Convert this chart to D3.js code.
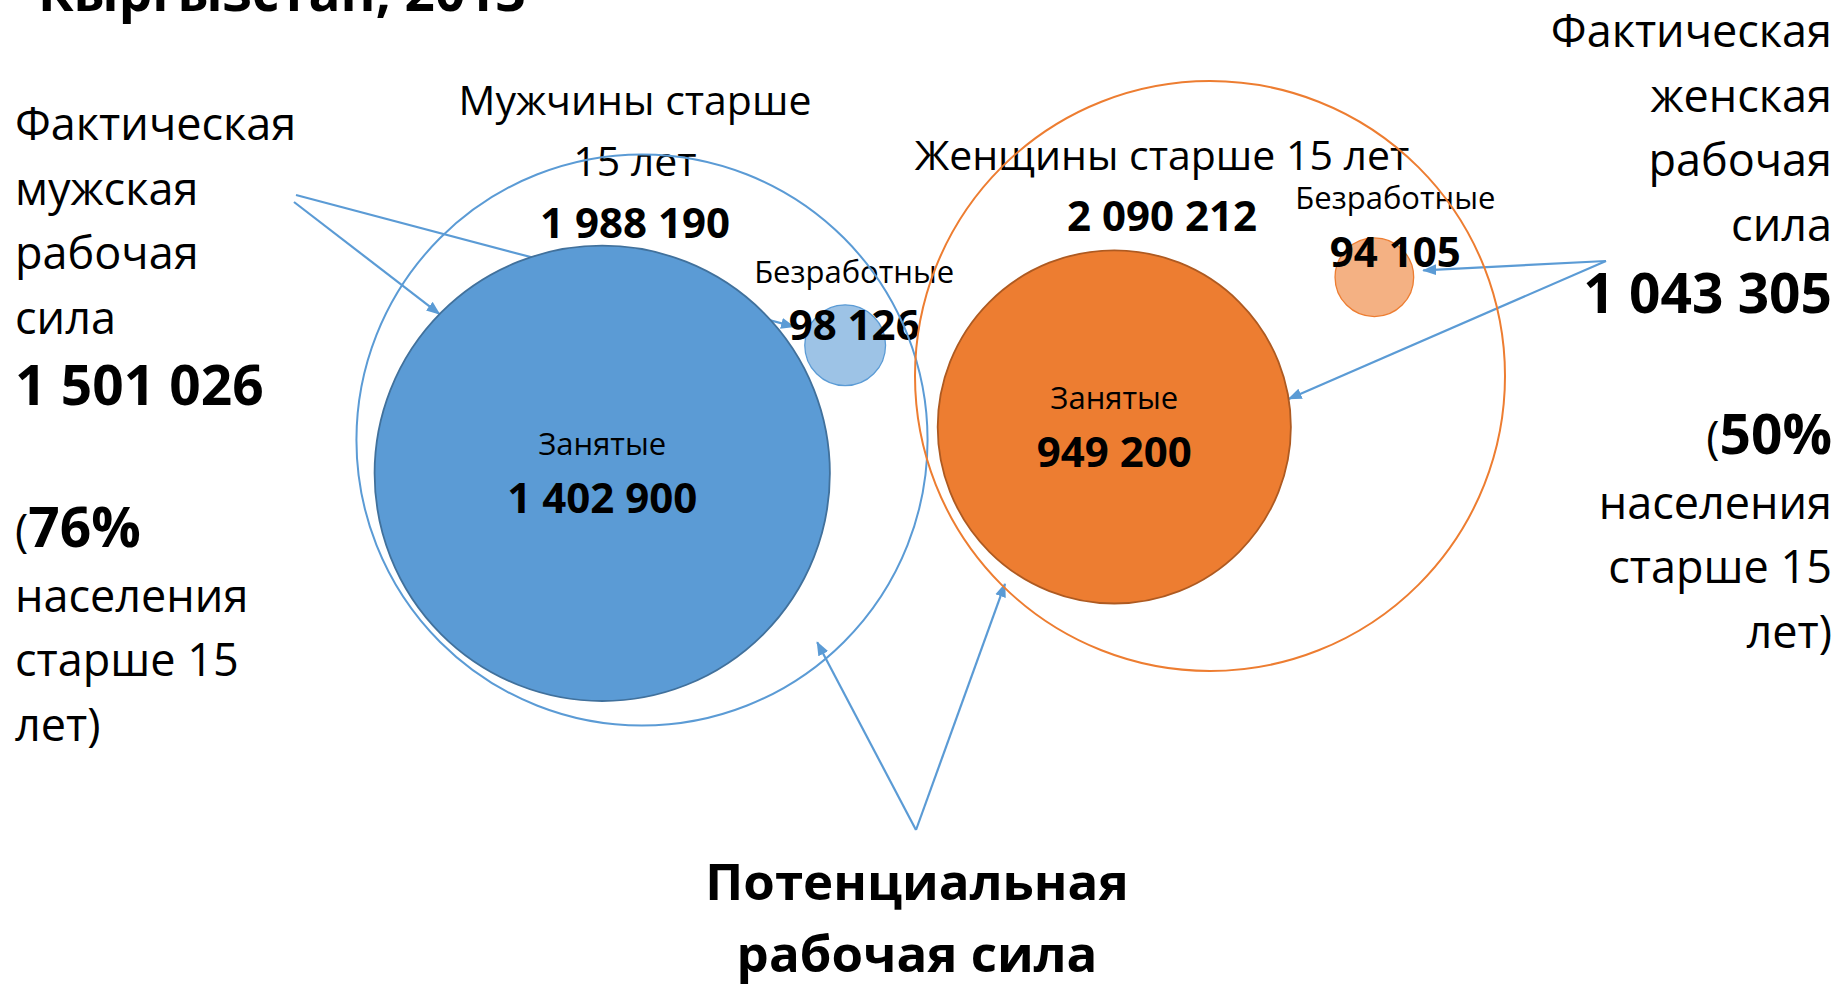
<!DOCTYPE html>
<html lang="ru">
<head>
<meta charset="utf-8">
<script src="https://cdn.jsdelivr.net/npm/d3@7"></script>
<style>
  html, body { margin: 0; padding: 0; background: #fff; }
  svg { display: block; font-family: "Open Sans", "Noto Sans", sans-serif; }
</style>
</head>
<body>
<svg id="chart" width="1841" height="986"></svg>
<script>
// ---------------- DATA ----------------
const groups = ["male", "female"];
const groupTitles = [["Мужчины старше", "15 лет"], ["Женщины старше 15 лет"]];
const populationOver15 = [1988190, 2090212];
const employed = [1402900, 949200];
const unemployed = [98126, 94105];
const laborForce = [1501026, 1043305];
const participationPct = [76, 50];
const laborForceTitle = [["Фактическая", "мужская", "рабочая", "сила"], ["Фактическая", "женская", "рабочая", "сила"]];
const shareTail = ["населения", "старше 15", "лет)"];
const employedLabel = "Занятые";
const unemployedLabel = "Безработные";
const potentialLabel = ["Потенциальная", "рабочая сила"];
const headerText = "Кыргызстан, 2013";

// ---------------- STYLE / LAYOUT ----------------
const blue = "#5B9BD5", orange = "#ED7D31";
const palette = {
  male:   { outer: blue,   emp: "#5B9BD5", empStroke: "#41719C", un: "#9DC3E6", unStroke: "#5B9BD5" },
  female: { outer: orange, emp: "#ED7D31", empStroke: "#AE5A21", un: "#F4B183", unStroke: "#ED7D31" }
};
// geometry parameters (angles in degrees) for placing inner circles inside the outer one
const layout = {
  male:   { empAngle: 140, empGap: 6, unAngle: -25, unDist: 0.785,
            titleDx: -7, titleY: [-325, -264], totalY: -202,
            unLabelDx: 9, unLabelGap: 22, unNumDy: -5 },
  female: { empAngle: 152, empGap: 10, unAngle: -31, unDist: 0.65,
            titleDx: -48, titleY: [-206], totalY: -145,
            unLabelDx: 21, unLabelGap: 29, unNumDy: -10 }
};

const fmt = d3.formatLocale({ decimal: ",", thousands: " ", grouping: [3], currency: ["", ""] }).format(",d");

const svg = d3.select("#chart");

// scales
const xGroup = d3.scalePoint().domain(groups).range([642, 1210]);
const yGroup = d3.scaleOrdinal().domain(groups).range([440, 376]);
const rScale = d3.scalePow().exponent(0.65).domain([0, d3.max(populationOver15)]).range([0, 295]);

const rad = a => a * Math.PI / 180;

// circle geometry
const nodes = groups.map((g, i) => {
  const L = layout[g];
  const cx = xGroup(g), cy = yGroup(g), R = rScale(populationOver15[i]);
  const re = rScale(employed[i]);
  const de = R - re - L.empGap;
  const ru = rScale(unemployed[i]);
  const du = R * L.unDist;
  return {
    g, i,
    outer: { cx, cy, r: R },
    emp: { cx: cx + de * Math.cos(rad(L.empAngle)), cy: cy + de * Math.sin(rad(L.empAngle)), r: re },
    un:  { cx: cx + du * Math.cos(rad(L.unAngle)),  cy: cy + du * Math.sin(rad(L.unAngle)),  r: ru }
  };
});
const byG = Object.fromEntries(nodes.map(n => [n.g, n]));
const onCircle = (c, angle, off) => [c.cx + (c.r + off) * Math.cos(rad(angle)), c.cy + (c.r + off) * Math.sin(rad(angle))];

// ---------------- ARROWS ----------------
const defs = svg.append("defs");
defs.append("marker")
  .attr("id", "head").attr("viewBox", "0 -6 14 12")
  .attr("refX", 13).attr("refY", 0)
  .attr("markerWidth", 14).attr("markerHeight", 12)
  .attr("markerUnits", "userSpaceOnUse").attr("orient", "auto")
  .append("path").attr("d", "M0,-5.5L14,0L0,5.5Z").attr("fill", blue);

const arrows = [
  { from: [294, 202], to: onCircle(byG.male.emp, -135.6, 0) },
  { from: [296, 195], to: onCircle(byG.male.un, -160, 14) },
  { from: [1606, 261], to: onCircle(byG.female.un, -8, 10) },
  { from: [1606, 261], to: onCircle(byG.female.emp, -9.1, 0) },
  { from: [916, 830], to: onCircle(byG.male.outer, 49.1, -18) },
  { from: [916, 830], to: onCircle(byG.female.outer, 134.6, -3) }
];

const gArrows = svg.append("g");
gArrows.selectAll("line").data(arrows).join("line")
  .attr("x1", d => d.from[0]).attr("y1", d => d.from[1])
  .attr("x2", d => d.to[0]).attr("y2", d => d.to[1])
  .attr("stroke", blue).attr("stroke-width", 2.2)
  .attr("marker-end", "url(#head)");

// ---------------- FILLED CIRCLES ----------------
const gFilled = svg.append("g");
gFilled.selectAll("circle.emp").data(nodes).join("circle").attr("class", "emp")
  .attr("cx", d => d.emp.cx).attr("cy", d => d.emp.cy).attr("r", d => d.emp.r)
  .attr("fill", d => palette[d.g].emp).attr("stroke", d => palette[d.g].empStroke).attr("stroke-width", 1.8);
gFilled.selectAll("circle.un").data(nodes).join("circle").attr("class", "un")
  .attr("cx", d => d.un.cx).attr("cy", d => d.un.cy).attr("r", d => d.un.r)
  .attr("fill", d => palette[d.g].un).attr("stroke", d => palette[d.g].unStroke).attr("stroke-width", 1.3);

// ---------------- TEXT ----------------
const gText = svg.append("g").attr("fill", "#000");
const REG = 45, BIG = 55, TITLE = 41, NUM = 42, SMALL = 31;

function txt(x, y, s, size, weight, anchor) {
  return gText.append("text").attr("x", x).attr("y", y).attr("font-size", size)
    .attr("font-weight", weight || 400).attr("text-anchor", anchor || "middle").text(s);
}

// header (cut off at the top edge, as in the reference)
txt(38, 11, headerText, 53, 700, "start");

// circle labels
nodes.forEach(n => {
  const L = layout[n.g], o = n.outer;
  groupTitles[n.i].forEach((t, k) => txt(o.cx + L.titleDx, o.cy + L.titleY[k], t, TITLE, 400));
  txt(o.cx + L.titleDx, o.cy + L.totalY, fmt(populationOver15[n.i]), NUM, 700);
  txt(n.emp.cx, n.emp.cy - 18, employedLabel, SMALL, 400);
  txt(n.emp.cx, n.emp.cy + 40, fmt(employed[n.i]), NUM, 700);
  txt(n.un.cx + L.unLabelDx, n.un.cy - n.un.r - L.unLabelGap, unemployedLabel, SMALL, 400);
  txt(n.un.cx + L.unLabelDx, n.un.cy + L.unNumDy, fmt(unemployed[n.i]), NUM, 700);
});

// side blocks
const sides = [
  { x: 15, anchor: "start", y0: 140, numY: 405, pctY: 547 },
  { x: 1832, anchor: "end", y0: 47, numY: 313, pctY: 454 }
];
const LINE = 64.5;
sides.forEach((s, i) => {
  laborForceTitle[i].forEach((t, k) => txt(s.x, s.y0 + k * LINE, t, REG, 400, s.anchor));
  txt(s.x, s.numY, fmt(laborForce[i]), BIG, 700, s.anchor);
  const t = gText.append("text").attr("x", s.x).attr("y", s.pctY).attr("text-anchor", s.anchor);
  t.append("tspan").attr("font-size", REG).attr("font-weight", 400).text("(");
  t.append("tspan").attr("font-size", BIG).attr("font-weight", 700).text(participationPct[i] + "%");
  shareTail.forEach((line, k) => txt(s.x, s.pctY + (k + 1) * LINE, line, REG, 400, s.anchor));
});

// bottom label
potentialLabel.forEach((t, k) => txt(917, 900 + k * 72, t, 51, 700));

// ---------------- OUTER (UNFILLED) CIRCLES ----------------
svg.append("g").selectAll("circle").data(nodes).join("circle")
  .attr("cx", d => d.outer.cx).attr("cy", d => d.outer.cy).attr("r", d => d.outer.r)
  .attr("fill", "none").attr("stroke", d => palette[d.g].outer).attr("stroke-width", 2);
</script>
</body>
</html>
